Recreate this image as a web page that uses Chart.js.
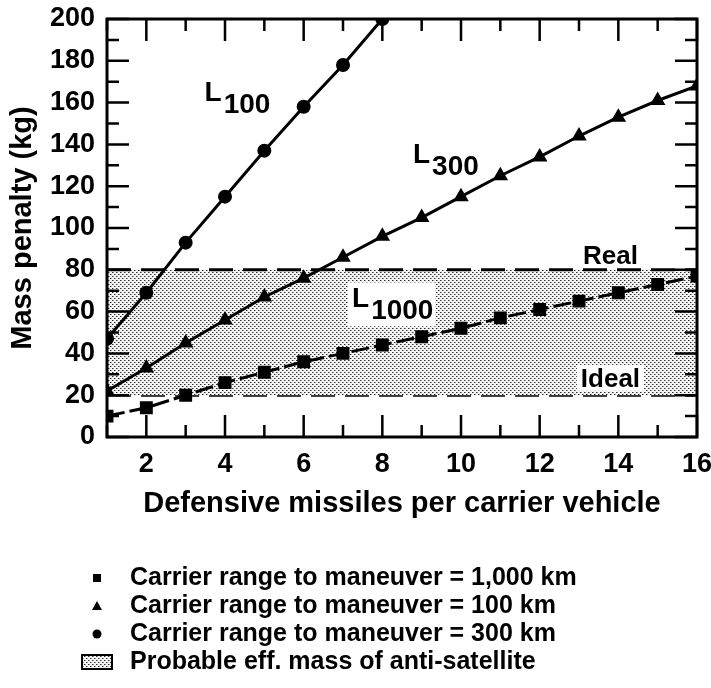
<!DOCTYPE html>
<html>
<head>
<meta charset="utf-8">
<script src="https://cdn.jsdelivr.net/npm/chart.js@4.4.1/dist/chart.umd.min.js"></script>
<style>
  html, body { margin: 0; padding: 0; background: #fff; }
  #wrap { width: 711px; height: 688px; position: relative; }
</style>
</head>
<body>
<div id="wrap"><canvas id="massChart"></canvas></div>
<script>
// Values
const missiles = [1, 2, 3, 4, 5, 6, 7, 8, 9, 10, 11, 12, 13, 14, 15, 16];
const massL100 = [47, 69, 93, 115, 137, 158, 178, 200];           // circles
const massL300 = [22, 33, 45, 56, 67, 76, 86, 96, 105, 115, 125, 134, 144, 153, 161, 168]; // triangles
const massL1000 = [10, 14, 20, 26, 31, 36, 40, 44, 48, 52, 57, 61, 65, 69, 73, 77]; // squares
const bandX = [1, 16];
const realLevel = [80, 80];
const idealLevel = [20, 20];
const xTickLabels = [2, 4, 6, 8, 10, 12, 14, 16];
const yTickLabels = [0, 20, 40, 60, 80, 100, 120, 140, 160, 180, 200];
const legendLabels = [
    'Carrier range to maneuver = 1,000 km',
    'Carrier range to maneuver = 100 km',
    'Carrier range to maneuver = 300 km',
    'Probable eff. mass of anti-satellite'
];

const FONT = "'Liberation Sans', Arial, sans-serif";

function toPoints(xs, ys) {
    return ys.map((y, i) => ({ x: xs[i], y: y }));
}

// stipple pattern for the shaded band
function makeStipple() {
    const c = document.createElement('canvas');
    c.width = 4; c.height = 4;
    const g = c.getContext('2d');
    g.fillStyle = '#f4f4f4';
    g.fillRect(0, 0, 4, 4);
    g.fillStyle = '#9a9a9a';
    g.fillRect(1, 0, 1, 1);
    g.fillRect(3, 2, 1, 1);
    g.fillStyle = '#2a2a2a';
    g.fillRect(0, 0, 1, 1);
    g.fillRect(2, 2, 1, 1);
    return g.createPattern(c, 'repeat');
}
const stipple = makeStipple();

// inner ticks + frame on all four sides
const frameTicks = {
    id: 'frameTicks',
    afterDatasetsDraw(chart) {
        const { ctx, chartArea: a, scales: { x, y } } = chart;
        ctx.save();
        ctx.strokeStyle = '#000';
        ctx.lineWidth = 2.5;
        ctx.beginPath();
        for (let v = 1; v <= 16; v++) {
            const px = x.getPixelForValue(v);
            const len = v % 2 === 0 ? 22 : 12;
            ctx.moveTo(px, a.bottom); ctx.lineTo(px, a.bottom - len);
            ctx.moveTo(px, a.top); ctx.lineTo(px, a.top + len);
        }
        for (let v = 0; v <= 200; v += 10) {
            const py = y.getPixelForValue(v);
            const len = v % 20 === 0 ? 22 : 12;
            ctx.moveTo(a.left, py); ctx.lineTo(a.left + len, py);
            ctx.moveTo(a.right, py); ctx.lineTo(a.right - len, py);
        }
        ctx.stroke();
        ctx.lineWidth = 3;
        ctx.strokeRect(a.left, a.top, a.right - a.left, a.bottom - a.top);
        ctx.restore();
    }
};

// curve names and band labels
const curveLabels = {
    id: 'curveLabels',
    afterDatasetsDraw(chart) {
        const { ctx, scales: { x, y } } = chart;
        ctx.save();
        ctx.fillStyle = '#000';
        ctx.textBaseline = 'alphabetic';

        function subLabel(sub, xv, yv, box) {
            const px = x.getPixelForValue(xv);
            const py = y.getPixelForValue(yv);
            ctx.font = 'bold 28px ' + FONT;
            const w1 = ctx.measureText('L').width;
            ctx.font = 'bold 28px ' + FONT;
            const w2 = ctx.measureText(sub).width;
            if (box) {
                ctx.fillStyle = '#fff';
                ctx.fillRect(px - 4, py - 25, w1 + w2 + 8, 44);
                ctx.fillStyle = '#000';
            }
            ctx.font = 'bold 28px ' + FONT;
            ctx.fillText('L', px, py);
            ctx.font = 'bold 28px ' + FONT;
            ctx.fillText(sub, px + w1 + 2, py + 12);
        }
        subLabel('100', 3.48, 161, false);
        subLabel('300', 8.78, 131, false);
        subLabel('1000', 7.23, 62, true);

        ctx.font = 'bold 26px ' + FONT;
        ctx.textAlign = 'center';
        const rx = x.getPixelForValue(13.8);
        ctx.fillText('Real', rx, y.getPixelForValue(83));
        const iw = ctx.measureText('Ideal').width;
        const iy = y.getPixelForValue(24);
        ctx.fillStyle = '#fff';
        ctx.fillRect(rx - iw / 2 - 4, iy - 22, iw + 8, 26);
        ctx.fillStyle = '#000';
        ctx.fillText('Ideal', rx, iy);
        ctx.restore();
    }
};

// legend under the axes, one entry per row
const rowLegend = {
    id: 'rowLegend',
    afterDraw(chart) {
        const { ctx } = chart;
        const mx = 97, tx = 130, y0 = 578, dy = 28;
        ctx.save();
        ctx.fillStyle = '#000';
        ctx.font = 'bold 25px ' + FONT;
        ctx.textBaseline = 'middle';
        legendLabels.forEach((t, i) => ctx.fillText(t, tx, y0 + i * dy));
        // markers
        ctx.fillRect(mx - 4, y0 - 4, 8, 8);
        const ty = y0 + dy;
        ctx.beginPath();
        ctx.moveTo(mx, ty - 5); ctx.lineTo(mx + 5, ty + 4); ctx.lineTo(mx - 5, ty + 4);
        ctx.closePath(); ctx.fill();
        ctx.beginPath();
        ctx.arc(mx, y0 + 2 * dy, 4.5, 0, Math.PI * 2); ctx.fill();
        const by = y0 + 3 * dy;
        ctx.fillStyle = stipple;
        ctx.fillRect(82, by - 7, 30, 14);
        ctx.strokeStyle = '#000';
        ctx.lineWidth = 2;
        ctx.strokeRect(82, by - 7, 30, 14);
        ctx.restore();
    }
};

const ctx = document.getElementById('massChart').getContext('2d');
new Chart(ctx, {
    type: 'line',
    data: {
        datasets: [
            {
                label: 'L100',
                data: toPoints(missiles, massL100),
                borderColor: '#000', backgroundColor: '#000',
                borderWidth: 3, pointStyle: 'circle', pointRadius: 5.5,
                fill: false, order: 0
            },
            {
                label: 'L300',
                data: toPoints(missiles, massL300),
                borderColor: '#000', backgroundColor: '#000',
                borderWidth: 3, pointStyle: 'triangle', pointRadius: 6,
                fill: false, order: 0
            },
            {
                label: 'L1000',
                data: toPoints(missiles, massL1000),
                borderColor: '#000', backgroundColor: '#000',
                borderWidth: 3, borderDash: [18, 5], pointStyle: 'rect', pointRadius: 7,
                fill: false, order: 0
            },
            {
                label: 'Real',
                data: toPoints(bandX, realLevel),
                borderColor: '#000', borderWidth: 3, borderDash: [24, 10],
                backgroundColor: stipple, pointRadius: 0,
                fill: '+1', order: 5
            },
            {
                label: 'Ideal',
                data: toPoints(bandX, idealLevel),
                borderColor: '#000', borderWidth: 3, borderDash: [24, 10],
                pointRadius: 0, fill: false, order: 5
            }
        ]
    },
    options: {
        responsive: true,
        maintainAspectRatio: false,
        animation: false,
        layout: { padding: { top: 0, right: 0, bottom: 167, left: 6 } },
        plugins: {
            legend: { display: false },
            tooltip: { enabled: false }
        },
        scales: {
            x: {
                type: 'linear', min: 1, max: 16,
                grid: { display: false, drawTicks: false },
                border: { display: false },
                ticks: {
                    stepSize: 1, autoSkip: false, maxRotation: 0, padding: 11,
                    color: '#000', font: { family: FONT, size: 27, weight: 'bold' },
                    callback: v => xTickLabels.includes(v) ? String(v) : ''
                },
                title: {
                    display: true, text: 'Defensive missiles per carrier vehicle',
                    color: '#000', font: { family: FONT, size: 29, weight: 'bold' },
                    padding: { top: 4, bottom: 0 }
                },
                afterFit(scale) {
                    scale.height = 84;
                    scale.paddingRight = 14;
                }
            },
            y: {
                min: 0, max: 200,
                grid: { display: false, drawTicks: false },
                border: { display: false },
                ticks: {
                    stepSize: 10, autoSkip: false, padding: 12,
                    color: '#000', font: { family: FONT, size: 27, weight: 'bold' },
                    callback: v => yTickLabels.includes(v) ? String(v) : ''
                },
                title: {
                    display: true, text: 'Mass penalty (kg)',
                    color: '#000', font: { family: FONT, size: 29, weight: 'bold' },
                    padding: { top: 0, bottom: 0 }
                },
                afterFit(scale) {
                    scale.width = 101;
                    scale.paddingTop = 19;
                }
            }
        }
    },
    plugins: [frameTicks, curveLabels, rowLegend]
});
</script>
</body>
</html>
